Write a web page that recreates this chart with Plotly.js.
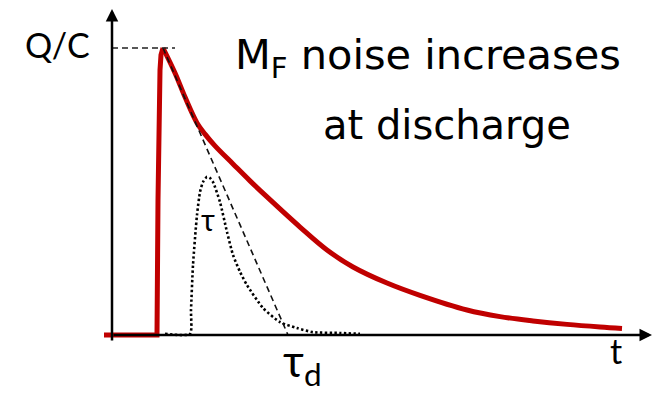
<!DOCTYPE html>
<html>
<head>
<meta charset="utf-8">
<script src="https://cdn.plot.ly/plotly-3.0.1.min.js"></script>
<style>
  html, body { margin: 0; padding: 0; background: #ffffff; }
  #chart { width: 654px; height: 393px; }
</style>
</head>
<body>
<div id="chart"></div>
<script>
// Time is in units of the discharge time constant tau_d, charge in units of Q/C.

// Detector output: baseline and fast rise up to the peak
const riseT = [-0.472, -0.048, -0.04, -0.032, -0.024, -0.016, 0];
const riseQ = [0, 0, 0.47, 0.784, 0.923, 0.976, 1];

// Detector output: slow discharge after the peak
const decayT = [0, 0.096, 0.176, 0.272, 0.336, 0.416, 0.56, 0.696, 0.832,
  1.096, 1.312, 1.52, 1.792, 2.056, 2.432, 2.696, 2.96, 3.232, 3.496, 3.672];
const decayQ = [1, 0.913, 0.829, 0.739, 0.7, 0.659, 0.596, 0.537, 0.481,
  0.376, 0.296, 0.237, 0.181, 0.138, 0.087, 0.064, 0.049, 0.037, 0.028, 0.023];

// Shaped pulse with shaping time tau
const pulseT = [0.016, 0.216, 0.224, 0.24, 0.272, 0.296, 0.32, 0.352, 0.376,
  0.4, 0.456, 0.512, 0.56, 0.616, 0.672, 0.8, 0.936, 1.072, 1.2, 1.416, 1.576];
const pulseQ = [0.004, 0.004, 0.087, 0.244, 0.418, 0.498, 0.533, 0.551, 0.547,
  0.533, 0.463, 0.359, 0.279, 0.22, 0.174, 0.094, 0.045, 0.024, 0.01, 0.007, 0.004];

// Initial-slope tangent from the peak down to tau_d
const tangentT = [0, 1];
const tangentQ = [1, 0];

// Peak level marker from the Q/C axis
const peakT = [-0.408, 0.096];
const peakQ = [1, 1];

// Axis extents
const yAxisT = -0.408;
const yAxisQ = [-0.024, 1.136];
const xAxisT = [-0.408, 3.912];

const W = 654, H = 393;
const xRange = [-1.304, 3.928];
const yRange = [-0.2021, 1.1672];
const labelFont = "Lato, 'DejaVu Sans', sans-serif";
const noteFont = "'DejaVu Sans', Lato, sans-serif";
const px = x => x / W;
const py = y => 1 - y / H;
const red = '#C00000';

const traces = [
  { x: riseT, y: riseQ, mode: 'lines',
    line: { color: red, width: 5, shape: 'linear' }, hoverinfo: 'skip' },
  { x: decayT, y: decayQ, mode: 'lines',
    line: { color: red, width: 5, shape: 'spline', smoothing: 1 }, hoverinfo: 'skip' },
  { x: pulseT, y: pulseQ, mode: 'lines',
    line: { color: '#000000', width: 2.6, dash: '2.4px,2.4px', shape: 'spline', smoothing: 0.6 }, hoverinfo: 'skip' },
  { x: tangentT, y: tangentQ, mode: 'lines',
    line: { color: '#111111', width: 1.6, dash: '6px,4px' }, hoverinfo: 'skip' },
  { x: peakT, y: peakQ, mode: 'lines',
    line: { color: '#222222', width: 1.6, dash: '6px,4px' }, hoverinfo: 'skip' }
];

const arrow = (xt, yt, xa, ya) => ({
  x: xt, y: yt, ax: xa, ay: ya, xref: 'x', yref: 'y', axref: 'x', ayref: 'y',
  text: '', showarrow: true, arrowhead: 2, arrowsize: 1, arrowwidth: 2.5,
  arrowcolor: '#000000', standoff: 0, startstandoff: 0
});

const label = (text, x, y, size, family) => ({
  text: text, x: px(x), y: py(y), xref: 'paper', yref: 'paper',
  xanchor: 'center', yanchor: 'middle', showarrow: false,
  font: { family: family || labelFont, size: size, color: '#000000' }
});

const layout = {
  width: W, height: H,
  margin: { l: 0, r: 0, t: 0, b: 0 },
  paper_bgcolor: '#ffffff', plot_bgcolor: '#ffffff',
  showlegend: false,
  xaxis: { range: xRange, visible: false, fixedrange: true },
  yaxis: { range: yRange, visible: false, fixedrange: true },
  annotations: [
    arrow(yAxisT, yAxisQ[1], yAxisT, yAxisQ[0]),
    arrow(xAxisT[1], 0, xAxisT[0], 0),
    label('Q/C', 57, 45, 34),
    label('M<sub>F</sub> noise increases', 428, 57, 41.5, noteFont),
    label('at discharge', 447, 125, 40, noteFont),
    label('τ', 208, 219, 30),
    label('τ<sub>d</sub>', 302, 363, 45),
    label('t', 616, 350, 34)
  ]
};

Plotly.newPlot('chart', traces, layout, { staticPlot: true, displayModeBar: false });
</script>
</body>
</html>
